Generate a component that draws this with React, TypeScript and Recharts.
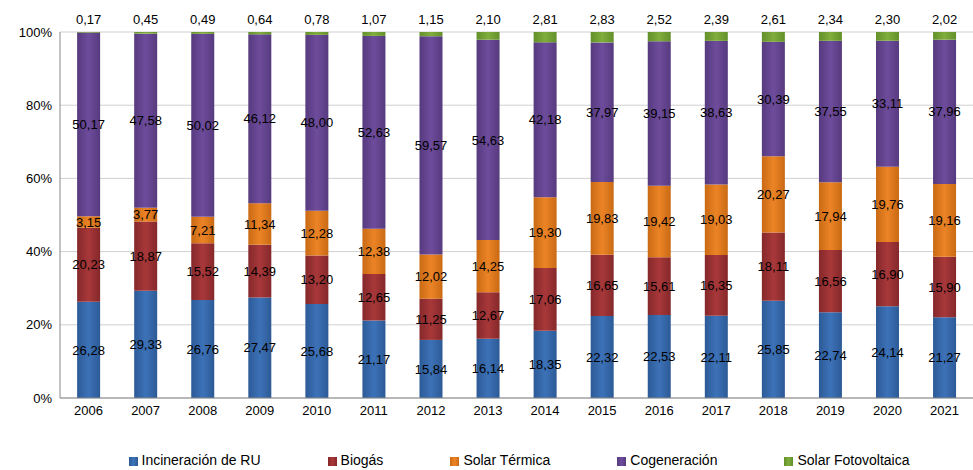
import React from "react";
import {
  BarChart,
  Bar,
  XAxis,
  YAxis,
  CartesianGrid,
  Legend,
  LabelList,
} from "recharts";

const years = ["2006","2007","2008","2009","2010","2011","2012","2013","2014","2015","2016","2017","2018","2019","2020","2021"];
const incineracion = [26.28,29.33,26.76,27.47,25.68,21.17,15.84,16.14,18.35,22.32,22.53,22.11,25.85,22.74,24.14,21.27];
const biogas = [20.23,18.87,15.52,14.39,13.2,12.65,11.25,12.67,17.06,16.65,15.61,16.35,18.11,16.56,16.9,15.9];
const solarTermica = [3.15,3.77,7.21,11.34,12.28,12.38,12.02,14.25,19.3,19.83,19.42,19.03,20.27,17.94,19.76,19.16];
const cogeneracion = [50.17,47.58,50.02,46.12,48.0,52.63,59.57,54.63,42.18,37.97,39.15,38.63,30.39,37.55,33.11,37.96];
const fotovoltaica = [0.17,0.45,0.49,0.64,0.78,1.07,1.15,2.1,2.81,2.83,2.52,2.39,2.61,2.34,2.3,2.02];
const yTicks = [0, 0.2, 0.4, 0.6, 0.8, 1];

const data = years.map((y, i) => ({
  year: y,
  inc: incineracion[i],
  bio: biogas[i],
  st: solarTermica[i],
  cog: cogeneracion[i],
  fv: fotovoltaica[i],
}));

const series = [
  { key: "inc", name: "Incineración de RU", color: "#3d72b8", dark: "#2c5a96" },
  { key: "bio", name: "Biogás", color: "#a8383a", dark: "#85282a" },
  { key: "st", name: "Solar Térmica", color: "#ec8426", dark: "#c96a14" },
  { key: "cog", name: "Cogeneración", color: "#6e4c9c", dark: "#563a7e" },
  { key: "fv", name: "Solar Fotovoltaica", color: "#80ad3c", dark: "#63902a" },
];

const fmt = (v: any) => Number(v).toFixed(2).replace(".", ",");

export default function App() {
  return (
    <div style={{ position: "absolute", left: 0, top: 0, fontFamily: "Arial, 'Liberation Sans', sans-serif" }}>
      <BarChart
        width={973}
        height={470}
        data={data}
        stackOffset="expand"
        margin={{ top: 32, right: 0, bottom: 0, left: 0 }}
        barCategoryGap="30%"
      >
        <defs>
          {series.map((s) => (
            <linearGradient key={s.key} id={"g-" + s.key} x1="0" y1="0" x2="1" y2="0">
              <stop offset="0%" stopColor={s.dark} />
              <stop offset="50%" stopColor={s.color} />
              <stop offset="100%" stopColor={s.dark} />
            </linearGradient>
          ))}
        </defs>
        <CartesianGrid vertical={false} stroke="#d0d0d0" />
        <XAxis
          dataKey="year"
          tick={{ fill: "#000", fontSize: 13 }}
          tickLine={false}
          axisLine={{ stroke: "#888" }}
          height={30}
        />
        <YAxis
          domain={[0, 1]}
          ticks={yTicks}
          tickFormatter={(v) => Math.round(v * 100) + "%"}
          tick={{ fill: "#000", fontSize: 13 }}
          axisLine={{ stroke: "#888" }}
          tickLine={false}
          width={60}
        />
        <Legend
          verticalAlign="bottom"
          height={42}
          iconType="square"
          iconSize={9}
          itemSorter={(item: any) => series.findIndex((s) => s.key === item.dataKey)}
          wrapperStyle={{ fontSize: 14, top: 452, left: 66, color: "#000" }}
          formatter={(v) => <span style={{ color: "#000", marginRight: 57 }}>{v}</span>}
        />
        {series.map((s) => (
          <Bar
            key={s.key}
            dataKey={s.key}
            name={s.name}
            stackId="a"
            fill={"url(#g-" + s.key + ")"}
            isAnimationActive={false}
          >
            <LabelList
              dataKey={s.key}
              position={s.key === "fv" ? "top" : "center"}
              offset={8}
              formatter={fmt}
              style={{ fill: "#000", fontSize: 13 }}
            />
          </Bar>
        ))}
      </BarChart>
    </div>
  );
}
